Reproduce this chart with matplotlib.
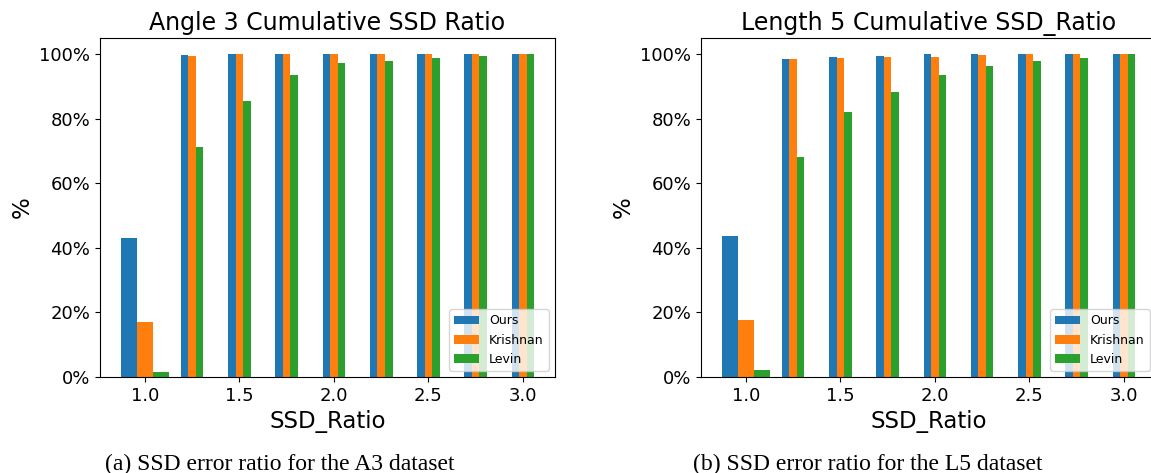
import matplotlib
matplotlib.use("Agg")
import matplotlib.pyplot as plt
import numpy as np
from matplotlib.ticker import FuncFormatter

ratios = [1.0, 1.25, 1.5, 1.75, 2.0, 2.25, 2.5, 2.75, 3.0]
series_names = ["Ours", "Krishnan", "Levin"]

a3_ours = [43.2, 99.8, 100.0, 100.0, 100.0, 100.0, 100.0, 100.0, 100.0]
a3_krishnan = [17.0, 99.5, 100.0, 100.0, 100.0, 100.0, 100.0, 100.0, 100.0]
a3_levin = [1.4, 71.1, 85.5, 93.6, 97.2, 98.0, 98.9, 99.5, 100.0]

l5_ours = [43.6, 98.6, 99.2, 99.5, 100.0, 100.0, 100.0, 100.0, 100.0]
l5_krishnan = [17.8, 98.6, 98.9, 99.2, 99.2, 99.8, 100.0, 100.0, 100.0]
l5_levin = [2.2, 68.1, 82.1, 88.4, 93.6, 96.4, 97.8, 98.9, 100.0]

titles = ["Angle 3 Cumulative SSD Ratio", "Length 5 Cumulative SSD_Ratio"]
captions = ["(a) SSD error ratio for the A3 dataset", "(b) SSD error ratio for the L5 dataset"]

colors = ["#1f77b4", "#ff7f0e", "#2ca02c"]

W, H = 1151, 473
fig = plt.figure(figsize=(W / 100, H / 100), dpi=100)

def px_axes(x0, x1, ytop, ybot):
    return fig.add_axes([x0 / W, (H - ybot) / H, (x1 - x0) / W, (ybot - ytop) / H])

axes = [px_axes(100, 555, 38, 377), px_axes(701, 1156, 38, 377)]
datasets = [(a3_ours, a3_krishnan, a3_levin), (l5_ours, l5_krishnan, l5_levin)]

x = np.array(ratios)
widths = np.array([0.085] + [0.04] * (len(ratios) - 1))

for ax, data, title in zip(axes, datasets, titles):
    for i, (vals, name, c) in enumerate(zip(data, series_names, colors)):
        ax.bar(x + (i - 1) * widths, vals, width=widths, color=c, label=name)
    ax.set_ylim(0, 105)
    ax.set_yticks([0, 20, 40, 60, 80, 100])
    ax.yaxis.set_major_formatter(FuncFormatter(lambda v, p: f"{int(v)}%"))
    ax.set_xticks([1.0, 1.5, 2.0, 2.5, 3.0])
    ax.tick_params(labelsize=13)
    ax.set_title(title, fontsize=17)
    ax.set_xlabel("SSD_Ratio", fontsize=16.5)
    ax.set_ylabel("%", fontsize=16.5)
    ax.legend(loc="lower right", fontsize=9)

fig.text(280 / W, 1 - 470 / H, captions[0], ha="center", va="baseline",
         family="Liberation Serif", fontsize=17)
fig.text(868 / W, 1 - 470 / H, captions[1], ha="center", va="baseline",
         family="Liberation Serif", fontsize=17)

fig.savefig("out.png", dpi=100)
